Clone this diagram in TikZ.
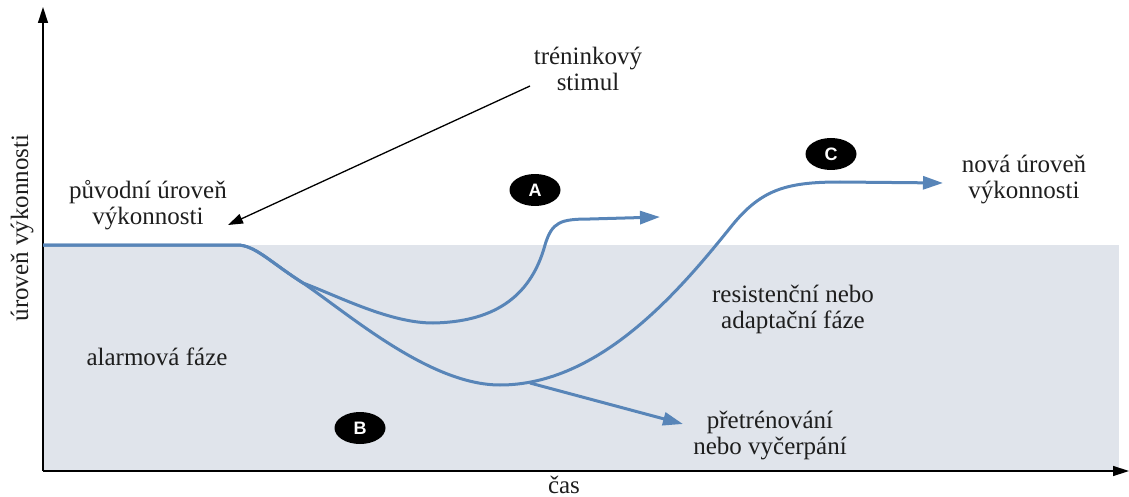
\documentclass[tikz,border=0pt]{standalone}
\usepackage{fontspec}
\setmainfont{Liberation Serif}
\newfontfamily\textserif{Liberation Serif}
\newfontfamily\markfont{Liberation Sans}
\usetikzlibrary{arrows.meta,shapes.geometric}
\definecolor{curveblue}{RGB}{88,133,184}
\definecolor{zonegray}{RGB}{224,228,235}
\definecolor{inkgray}{RGB}{30,30,30}
\begin{document}
\begin{tikzpicture}[x=1pt,y=-1pt,
  lbl/.style={font=\textserif\fontsize{25}{26}\selectfont, align=center, inner sep=0pt, text=inkgray},
  curve/.style={draw=curveblue, line width=3pt, line join=round},
  bluetip/.style={-{Triangle[length=20pt,width=13pt]}},
  axis/.style={draw=black, line width=1.4pt, -{Triangle[length=16pt,width=10pt]}},
  pointer/.style={draw=black, line width=1.3pt, -{Triangle[length=15pt,width=10pt]}},
  badge/.style={ellipse, fill=black, text=white, inner sep=0pt,
    minimum width=51pt, minimum height=32pt,
    font=\markfont\bfseries\fontsize{18}{18}\selectfont}]
\useasboundingbox (0,0) rectangle (1129,497);

% shaded zone below the original level
\fill[zonegray] (43,245) rectangle (1119,471);

% axes
\coordinate (O) at (43,471);
\coordinate (ytop) at (43,7);
\coordinate (xend) at (1129,471);
\draw[axis] (O) -- (ytop);
\draw[axis] (O) -- (xend);

% key points of the curves
\coordinate (start) at (43,245);
\coordinate (bend) at (237,245);
\coordinate (fork) at (303,283);
\coordinate (aMin) at (433,323);
\coordinate (aRise) at (545,245);
\coordinate (aEnd) at (660,217);
\coordinate (bMin) at (500,385);
\coordinate (bRise) at (730,228);
\coordinate (cEnd) at (943,183);
\coordinate (oStart) at (530,383);
\coordinate (oEnd) at (683,424);

% curve A: quick recovery
\draw[curve, bluetip] (start) -- (bend) .. controls (255,245) and (270,262) .. (fork)
  .. controls (340,297) and (390,323) .. (aMin)
  .. controls (490,322) and (530,300) .. (aRise)
  .. controls (552,222) and (560,219) .. (590,219) -- (aEnd);
% curve B/C: deep fall, then higher level
\draw[curve, bluetip] (start) -- (bend) .. controls (255,245) and (270,262) .. (fork)
  .. controls (350,315) and (430,385) .. (bMin)
  .. controls (600,385) and (680,290) .. (bRise)
  .. controls (760,190) and (785,182) .. (840,182) -- (cEnd);
% overtraining branch
\draw[curve, bluetip] (oStart) -- (oEnd);

% badges
\node[badge] (A) at (535,190) {A};
\node[badge] (B) at (360,428) {B};
\node[badge] (C) at (831,154) {C};

% labels
\node[lbl, rotate=90] (ylab) at (22,228) {úroveň výkonnosti};
\node[lbl, anchor=base] (time) at (564,493) {čas};
\node[lbl] (stim) at (588,69) {tréninkový\\stimul};
\node[lbl] (orig) at (148,205) {původní úroveň\\výkonnosti};
\node[lbl] (alarm) at (157,357) {alarmová fáze};
\node[lbl] (resist) at (793,309) {resistenční nebo\\adaptační fáze};
\node[lbl] (over) at (770,435) {přetrénování\\nebo vyčerpání};
\node[lbl] (new) at (1024,180) {nová úroveň\\výkonnosti};

% training stimulus pointer
\coordinate (stimtail) at (530,86);
\coordinate (stimhead) at (228,225);
\draw[pointer] (stimtail) -- (stimhead);
\end{tikzpicture}
\end{document}
